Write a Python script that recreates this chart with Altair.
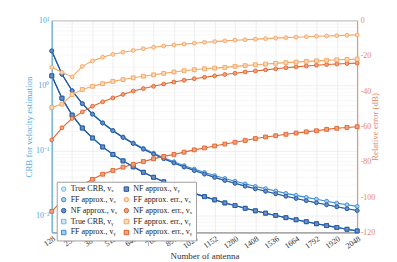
import altair as alt
import pandas as pd

# Number of antennas (x positions of every marker)
N = list(range(128, 2049, 64))
x_ticks = list(range(128, 2049, 128))

# ---- CRB (left, log axis) ----
true_vx = [3.41, 1.49, 0.832, 0.526, 0.363, 0.265, 0.202, 0.159, 0.128, 0.105, 0.0883, 0.0749, 0.0644,
           0.0558, 0.0491, 0.0434, 0.0386, 0.0346, 0.0313, 0.0283, 0.0257, 0.0236, 0.0216, 0.0198, 0.0183,
           0.0169, 0.0157, 0.0146, 0.0136, 0.0127, 0.0119]
ff_vx = [3.42, 1.49, 0.833, 0.527, 0.365, 0.267, 0.204, 0.162, 0.131, 0.108, 0.0911, 0.0775, 0.0672,
         0.0584, 0.0517, 0.0460, 0.0411, 0.0371, 0.0337, 0.0307, 0.0280, 0.0259, 0.0238, 0.0219, 0.0204,
         0.0190, 0.0178, 0.0166, 0.0155, 0.0146, 0.0138]
nf_vx = [3.41, 1.49, 0.832, 0.526, 0.363, 0.265, 0.202, 0.159, 0.128, 0.105, 0.0883, 0.0749, 0.0644,
         0.0558, 0.0491, 0.0434, 0.0386, 0.0346, 0.0313, 0.0283, 0.0257, 0.0236, 0.0216, 0.0198, 0.0183,
         0.0169, 0.0157, 0.0146, 0.0136, 0.0127, 0.0119]
true_vy = [1.413, 0.639, 0.351, 0.222, 0.156, 0.1135, 0.0871, 0.0693, 0.0561, 0.0462, 0.0387, 0.0330,
           0.0284, 0.0249, 0.0219, 0.0195, 0.0174, 0.0156, 0.0142, 0.0129, 0.0118, 0.01084, 0.0100,
           0.00925, 0.00859, 0.00801, 0.00746, 0.00698, 0.00653, 0.00612, 0.00577]
ff_vy = [1.413, 0.639, 0.351, 0.222, 0.156, 0.1135, 0.0871, 0.0693, 0.0561, 0.0462, 0.0387, 0.0330,
         0.0284, 0.0249, 0.0219, 0.0195, 0.0174, 0.0156, 0.0142, 0.0129, 0.0118, 0.01085, 0.01001,
         0.00927, 0.00861, 0.00803, 0.00748, 0.00700, 0.00655, 0.00614, 0.00579]
nf_vy = [1.413, 0.639, 0.351, 0.222, 0.156, 0.1135, 0.0871, 0.0693, 0.0561, 0.0462, 0.0387, 0.0330,
         0.0284, 0.0249, 0.0219, 0.0195, 0.0174, 0.0156, 0.0142, 0.0129, 0.0118, 0.01084, 0.0100,
         0.00925, 0.00859, 0.00801, 0.00746, 0.00698, 0.00653, 0.00612, 0.00577]

# ---- Relative error in dB (right axis) ----
ff_err_vx = [-26.4, -29.3, -31.9, -25.9, -22.8, -20.7, -19.1, -17.9, -16.9, -15.9, -15.1, -14.4, -13.8,
             -13.3, -12.8, -12.3, -11.9, -11.5, -11.1, -10.8, -10.5, -10.2, -9.9, -9.65, -9.4, -9.15,
             -8.9, -8.7, -8.5, -8.3, -8.1]
nf_err_vx = [-67.6, -60.7, -55.4, -51.7, -48.5, -46.0, -43.8, -41.8, -39.9, -38.5, -37.2, -35.9, -34.8,
             -33.8, -32.9, -32.1, -31.3, -30.5, -29.8, -29.1, -28.5, -27.9, -27.3, -26.7, -26.2, -25.7,
             -25.3, -24.9, -24.6, -24.3, -24.1]
ff_err_vy = [-49.2, -47.3, -41.9, -39.0, -37.2, -35.7, -34.4, -33.4, -32.4, -31.5, -30.7, -29.9, -29.1,
             -28.4, -27.8, -27.3, -26.9, -26.5, -25.9, -25.5, -25.0, -24.6, -24.2, -23.8, -23.5, -23.1,
             -22.8, -22.5, -22.2, -22.0, -21.8]
nf_err_vy = [-108.0, -102.0, -96.9, -93.0, -89.9, -87.0, -84.9, -83.0, -81.4, -79.8, -78.3, -76.9, -75.8,
             -74.5, -73.2, -72.1, -71.0, -69.9, -68.9, -67.9, -66.8, -65.9, -65.2, -64.4, -63.7, -63.0,
             -62.4, -61.6, -61.0, -60.5, -60.1]

left_names = ["True CRB, vₓ", "FF approx., vₓ", "NF approx., vₓ",
              "True CRB, vᵧ", "FF approx., vᵧ", "NF approx., vᵧ"]
right_names = ["FF approx. err., vₓ", "NF approx. err., vₓ",
               "FF approx. err., vᵧ", "NF approx. err., vᵧ"]
left_series = [true_vx, ff_vx, nf_vx, true_vy, ff_vy, nf_vy]
right_series = [ff_err_vx, nf_err_vx, ff_err_vy, nf_err_vy]

C_TRUE, C_FF, C_NF = "#6BB9EA", "#3A8BD3", "#24549E"
C_FFE, C_NFE = "#F5A662", "#E2622C"
F_TRUE, F_FF, F_NF = "#CDE8F8", "#A8CCEE", "#6F8FC6"
F_FFE, F_NFE = "#FBD7B4", "#F1A27F"
AX_L, AX_R = "#55A6DC", "#E8875E"

# legend order (Vega fills the 2 columns column-major)
legend_order = left_names + right_names
color_of = {left_names[0]: C_TRUE, left_names[1]: C_FF, left_names[2]: C_NF,
            left_names[3]: C_TRUE, left_names[4]: C_FF, left_names[5]: C_NF,
            right_names[0]: C_FFE, right_names[1]: C_NFE, right_names[2]: C_FFE, right_names[3]: C_NFE}
fill_of = {left_names[0]: F_TRUE, left_names[1]: F_FF, left_names[2]: F_NF,
           left_names[3]: F_TRUE, left_names[4]: F_FF, left_names[5]: F_NF,
           right_names[0]: F_FFE, right_names[1]: F_NFE, right_names[2]: F_FFE, right_names[3]: F_NFE}
shape_of = {n: ("circle" if "ₓ" in n else "square") for n in legend_order}

color_scale = alt.Scale(domain=legend_order, range=[color_of[n] for n in legend_order])
fill_scale = alt.Scale(domain=legend_order, range=[fill_of[n] for n in legend_order])
shape_scale = alt.Scale(domain=legend_order, range=[shape_of[n] for n in legend_order])


def long_df(names, series):
    rows = []
    for k, (name, vals) in enumerate(zip(names, series)):
        for n, v in zip(N, vals):
            rows.append({"N": n, "val": v, "series": name, "k": k})
    return pd.DataFrame(rows)


df_l = long_df(left_names, left_series)
df_r = long_df(right_names, right_series)

legend = alt.Legend(title=None, orient="none", legendX=5, legendY=162, columns=2,
                    fillColor="white", strokeColor="#a0a0a0", padding=3, labelFontSize=8,
                    labelFont="Liberation Serif", symbolSize=20, rowPadding=1, columnPadding=4,
                    labelLimit=200, symbolStrokeWidth=1, labelOffset=3, cornerRadius=0,
                    labelColor="#222222")

x_enc = alt.X("N:Q", scale=alt.Scale(domain=[128, 2048], nice=False, zero=False),
              axis=alt.Axis(values=x_ticks, title="Number of antenna", labelAngle=325,
                            labelExpr="'' + datum.value",
                            labelAlign="right", labelBaseline="top", labelPadding=2,
                            ticks=False, grid=True, domainColor="#8a8a8a", labelColor="#333333",
                            titleColor="#333333", titlePadding=1, labelOverlap=False))

minor_vals = sorted({round(k * 10 ** e, 6) for e in (-3, -2, -1, 0, 1) for k in range(1, 10)
                     if 0.00547 <= k * 10 ** e <= 10})
decade_test = "indexof([10, 1, 0.1, 0.01], datum.value) >= 0"

y_left = alt.Y("val:Q", scale=alt.Scale(type="log", domain=[0.00547, 10], nice=False),
               axis=alt.Axis(values=minor_vals, orient="left",
                             labelExpr="datum.value == 10 ? '10¹' : datum.value == 1 ? '10⁰' : datum.value == 0.1 ? '10⁻¹' : datum.value == 0.01 ? '10⁻²' : ''",
                             title="CRB for velocity estimation", ticks=False, grid=True,
                             gridOpacity={"condition": {"test": decade_test, "value": 1}, "value": 0.5},
                             domainColor=AX_L, labelColor=AX_L, titleColor=AX_L, labelPadding=3,
                             titlePadding=2, labelOverlap=False, labelFlush=False))

y_right = alt.Y("val:Q", scale=alt.Scale(domain=[-120, 0], nice=False, zero=False),
                axis=alt.Axis(values=[0, -20, -40, -60, -80, -100, -120], orient="right",
                              labelExpr="'' + datum.value", title="Relative error (dB)",
                              titleAngle=270, ticks=False, grid=False, domainColor=AX_R,
                              labelColor=AX_R, titleColor=AX_R, labelPadding=3, titlePadding=5,
                              labelOverlap=False, labelFlush=False))

color_enc = alt.Color("series:N", scale=color_scale, legend=legend)
shape_enc = alt.Shape("series:N", scale=shape_scale, legend=legend)
fill_enc = alt.Fill("series:N", scale=fill_scale, legend=None)


def make_layer(df, y_enc):
    line = alt.Chart(df).mark_line(strokeWidth=1.1).encode(
        x=x_enc, y=y_enc, color=color_enc, order="N:Q")
    pts = alt.Chart(df).mark_point(filled=False, size=15, strokeWidth=0.9, opacity=1).encode(
        x=x_enc, y=y_enc, color=color_enc, shape=shape_enc, fill=fill_enc)
    return alt.layer(line, pts)


left = make_layer(df_l, y_left)
right = make_layer(df_r, y_right)

chart = alt.layer(left, right).resolve_scale(y="independent").properties(
    width=307, height=213,
    autosize=alt.AutoSizeParams(type="none"),
    padding={"left": 44, "top": 12, "right": 32, "bottom": 30},
).configure(font="Liberation Serif").configure_view(
    stroke="#9a9a9a", strokeWidth=0.8
).configure_axis(
    labelFontSize=8, titleFontSize=9, titleFontWeight="normal", gridColor="#e4e4e4",
    gridWidth=0.6, domainWidth=0.9, labelFont="Liberation Serif", titleFont="Liberation Serif"
)

chart.save("out.html", embed_options={"renderer": "svg", "actions": False})
